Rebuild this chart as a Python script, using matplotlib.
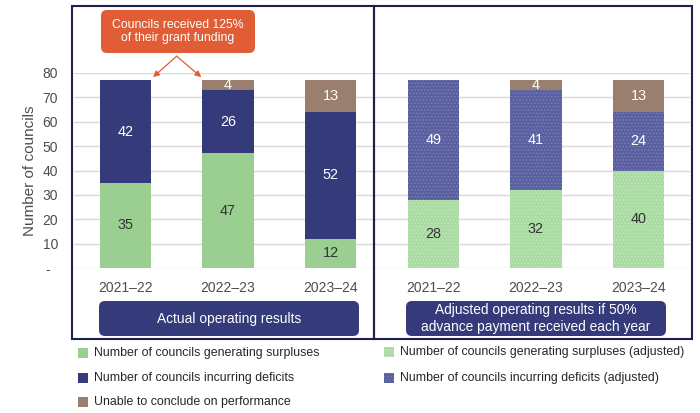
import matplotlib.pyplot as plt
from matplotlib.patches import FancyBboxPatch, Rectangle

plt.rcParams['font.family'] = ['Liberation Sans', 'DejaVu Sans']

years = ["2021–22", "2022–23", "2023–24"]
surplus = [35, 47, 12]
deficit = [42, 26, 52]
unable = [0, 4, 13]
surplus_adj = [28, 32, 40]
deficit_adj = [49, 41, 24]
unable_adj = [0, 4, 13]

panel_titles = ["Actual operating results",
                "Adjusted operating results if 50%\nadvance payment received each year"]
note = "Councils received 125%\nof their grant funding"
legend_left = ["Number of councils generating surpluses",
               "Number of councils incurring deficits",
               "Unable to conclude on performance"]
legend_right = ["Number of councils generating surpluses (adjusted)",
                "Number of councils incurring deficits (adjusted)"]

GREEN = "#9ACF91"
NAVY = "#353B7A"
BROWN = "#9A7F6E"
GREEN_ADJ = "#A9DBA2"
NAVY_ADJ = "#5A5F9F"
ORANGE = "#E05D36"
FRAME = "#1E2150"

W, H = 700, 413


def fx(x):
    return x / W


def fy(y):
    return 1 - y / H


fig = plt.figure(figsize=(7, 4.13), dpi=100)
ax = fig.add_axes([fx(74), fy(268), fx(690) - fx(74), (268 - 73) / H])

pos_a = [0, 1, 2]
pos_b = [3, 4, 5]
bw = 0.5

b1 = ax.bar(pos_a, surplus, bw, color=GREEN, zorder=3)
b2 = ax.bar(pos_a, deficit, bw, bottom=surplus, color=NAVY, zorder=3)
bot = [s + d for s, d in zip(surplus, deficit)]
b3 = ax.bar(pos_a, unable, bw, bottom=bot, color=BROWN, zorder=3)

plt.rcParams['hatch.linewidth'] = 0.6
c1 = ax.bar(pos_b, surplus_adj, bw, color=GREEN_ADJ, hatch='.....',
            edgecolor="#C4E8BE", linewidth=0, zorder=3)
c2 = ax.bar(pos_b, deficit_adj, bw, bottom=surplus_adj, color=NAVY_ADJ,
            hatch='.....', edgecolor="#7C80B8", linewidth=0, zorder=3)
bot_adj = [s + d for s, d in zip(surplus_adj, deficit_adj)]
c3 = ax.bar(pos_b, unable_adj, bw, bottom=bot_adj, color=BROWN, zorder=3)


def put_labels(bars, vals, bottoms, color):
    for rect, v, b in zip(bars, vals, bottoms):
        if v == 0:
            continue
        ax.text(rect.get_x() + rect.get_width() / 2, b + v / 2, str(v),
                ha='center', va='center', fontsize=10.4, color=color, zorder=4)


put_labels(b1, surplus, [0, 0, 0], "#333333")
put_labels(b2, deficit, surplus, "white")
put_labels(b3, unable, bot, "white")
put_labels(c1, surplus_adj, [0, 0, 0], "#333333")
put_labels(c2, deficit_adj, surplus_adj, "white")
put_labels(c3, unable_adj, bot_adj, "white")

ax.set_xlim(-0.5, 5.5)
ax.set_ylim(0, 80)
ax.set_yticks(range(0, 90, 10))
ax.set_yticklabels(["-  "] + [str(v) for v in range(10, 90, 10)])
ax.set_xticks(pos_a + pos_b)
ax.set_xticklabels(years + years)
ax.tick_params(length=0, labelsize=10, colors="#4D4D4D")
ax.tick_params(axis='x', pad=9)
ax.tick_params(axis='y', pad=11.5)
ax.yaxis.grid(True, color="#D9D9D9", linewidth=1, zorder=0)
for s in ax.spines.values():
    s.set_visible(False)
ax.set_ylabel("Number of councils", fontsize=11, color="#4D4D4D", labelpad=4)

# panel frames
for x0, x1 in [(72, 374), (374, 692)]:
    fig.add_artist(Rectangle((fx(x0), fy(339)), fx(x1) - fx(x0), (339 - 6) / H,
                             fill=False, edgecolor=FRAME, linewidth=1.5,
                             transform=fig.transFigure))

# panel title boxes
for (x0, x1), title in zip([(99, 359), (406, 666)], panel_titles):
    fig.add_artist(FancyBboxPatch((fx(x0), fy(336)), fx(x1) - fx(x0), 35 / H,
                                  boxstyle="round,pad=0,rounding_size=%f" % (6 / W),
                                  mutation_aspect=W / H, facecolor=NAVY,
                                  edgecolor="none", transform=fig.transFigure))
    fig.text(fx((x0 + x1) / 2), fy(318.5), title, ha='center', va='center',
             color="white", fontsize=9.9, linespacing=1.2)

# callout
fig.add_artist(FancyBboxPatch((fx(101), fy(53)), fx(255) - fx(101), 43 / H,
                              boxstyle="round,pad=0,rounding_size=%f" % (6 / W),
                              mutation_aspect=W / H, facecolor=ORANGE,
                              edgecolor="none", transform=fig.transFigure))
fig.text(fx(178), fy(31.5), note, ha='center', va='center', color="white",
         fontsize=8.8, linespacing=1.2)
for tx in [0.27, 0.74]:
    ax.annotate("", xy=(tx, 78.3), xytext=(0.5, 86.9),
                arrowprops=dict(arrowstyle="-|>", color=ORANGE, lw=0.9,
                                mutation_scale=9, shrinkA=0, shrinkB=0),
                annotation_clip=False)

# legend
left_cols = [GREEN, NAVY, BROWN]
for i, (lab, col) in enumerate(zip(legend_left, left_cols)):
    y = 353 + i * 24.5
    fig.add_artist(Rectangle((fx(78), fy(y + 5)), 10 / W, 10 / H, facecolor=col,
                             edgecolor="none", transform=fig.transFigure))
    fig.text(fx(94), fy(y), lab, ha='left', va='center', fontsize=8.9, color="#262626")
right_cols = [(GREEN_ADJ, "#C4E8BE"), (NAVY_ADJ, "#7C80B8")]
for i, (lab, (col, hc)) in enumerate(zip(legend_right, right_cols)):
    y = 352 + i * 25.5
    fig.add_artist(Rectangle((fx(384), fy(y + 5)), 10 / W, 10 / H, facecolor=col,
                             edgecolor=hc, hatch='.....', linewidth=0,
                             transform=fig.transFigure))
    fig.text(fx(400), fy(y), lab, ha='left', va='center', fontsize=8.9, color="#262626")

fig.savefig("out.png", dpi=100)
